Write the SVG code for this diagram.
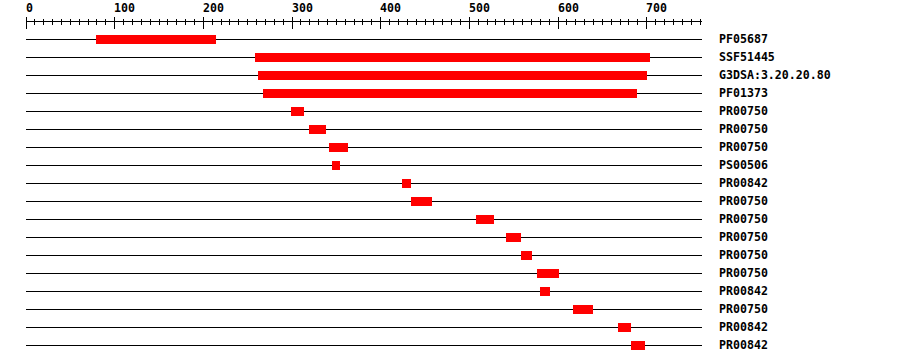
<svg xmlns="http://www.w3.org/2000/svg" width="900" height="364" viewBox="0 0 900 364">
<style>
text{font-family:"DejaVu Sans Mono","Liberation Mono",monospace;font-weight:bold;font-size:11.6px;fill:#000}
.ln{stroke:#000;stroke-width:1;fill:none}
.bar{fill:#ff0000}
</style>
<rect width="900" height="364" fill="#fff"/>
<g id="ruler">
<path class="ln" d="M26 21.5H702"/>
<path class="ln" d="M26.5 17V29M114.5 17V29M203.5 17V29M292.5 17V29M380.5 17V29M469.5 17V29M558.5 17V29M646.5 17V29"/>
<path class="ln" d="M34.5 19V25M43.5 19V25M52.5 19V25M61.5 19V25M70.5 19V25M79.5 19V25M88.5 19V25M96.5 19V25M105.5 19V25M123.5 19V25M132.5 19V25M141.5 19V25M150.5 19V25M159.5 19V25M167.5 19V25M176.5 19V25M185.5 19V25M194.5 19V25M212.5 19V25M221.5 19V25M229.5 19V25M238.5 19V25M247.5 19V25M256.5 19V25M265.5 19V25M274.5 19V25M283.5 19V25M300.5 19V25M309.5 19V25M318.5 19V25M327.5 19V25M336.5 19V25M345.5 19V25M354.5 19V25M362.5 19V25M371.5 19V25M389.5 19V25M398.5 19V25M407.5 19V25M416.5 19V25M425.5 19V25M433.5 19V25M442.5 19V25M451.5 19V25M460.5 19V25M478.5 19V25M487.5 19V25M495.5 19V25M504.5 19V25M513.5 19V25M522.5 19V25M531.5 19V25M540.5 19V25M549.5 19V25M566.5 19V25M575.5 19V25M584.5 19V25M593.5 19V25M602.5 19V25M611.5 19V25M620.5 19V25M628.5 19V25M637.5 19V25M655.5 19V25M664.5 19V25M673.5 19V25M682.5 19V25M691.5 19V25M700.5 19V25"/>
<text x="26" y="12">0</text>
<text x="114" y="12">100</text>
<text x="203" y="12">200</text>
<text x="292" y="12">300</text>
<text x="380" y="12">400</text>
<text x="469" y="12">500</text>
<text x="558" y="12">600</text>
<text x="646" y="12">700</text>
</g>
<g id="connectors">
<path class="ln" d="M26 39.5H702M26 57.5H702M26 75.5H702M26 93.5H702M26 111.5H702M26 129.5H702M26 147.5H702M26 165.5H702M26 183.5H702M26 201.5H702M26 219.5H702M26 237.5H702M26 255.5H702M26 273.5H702M26 291.5H702M26 309.5H702M26 327.5H702M26 345.5H702"/>
</g>
<g id="t1"><rect class="bar" x="96" y="35" width="120" height="9"/><text x="719" y="43">PF05687</text></g>
<g id="t2"><rect class="bar" x="255" y="53" width="395" height="9"/><text x="719" y="61">SSF51445</text></g>
<g id="t3"><rect class="bar" x="258" y="71" width="389" height="9"/><text x="719" y="79">G3DSA:3.20.20.80</text></g>
<g id="t4"><rect class="bar" x="263" y="89" width="374" height="9"/><text x="719" y="97">PF01373</text></g>
<g id="t5"><rect class="bar" x="291" y="107" width="13" height="9"/><text x="719" y="115">PR00750</text></g>
<g id="t6"><rect class="bar" x="309" y="125" width="17" height="9"/><text x="719" y="133">PR00750</text></g>
<g id="t7"><rect class="bar" x="329" y="143" width="19" height="9"/><text x="719" y="151">PR00750</text></g>
<g id="t8"><rect class="bar" x="332" y="161" width="8" height="9"/><text x="719" y="169">PS00506</text></g>
<g id="t9"><rect class="bar" x="402" y="179" width="9" height="9"/><text x="719" y="187">PR00842</text></g>
<g id="t10"><rect class="bar" x="411" y="197" width="21" height="9"/><text x="719" y="205">PR00750</text></g>
<g id="t11"><rect class="bar" x="476" y="215" width="18" height="9"/><text x="719" y="223">PR00750</text></g>
<g id="t12"><rect class="bar" x="506" y="233" width="15" height="9"/><text x="719" y="241">PR00750</text></g>
<g id="t13"><rect class="bar" x="521" y="251" width="11" height="9"/><text x="719" y="259">PR00750</text></g>
<g id="t14"><rect class="bar" x="537" y="269" width="22" height="9"/><text x="719" y="277">PR00750</text></g>
<g id="t15"><rect class="bar" x="540" y="287" width="10" height="9"/><text x="719" y="295">PR00842</text></g>
<g id="t16"><rect class="bar" x="573" y="305" width="20" height="9"/><text x="719" y="313">PR00750</text></g>
<g id="t17"><rect class="bar" x="618" y="323" width="13" height="9"/><text x="719" y="331">PR00842</text></g>
<g id="t18"><rect class="bar" x="631" y="341" width="14" height="9"/><text x="719" y="349">PR00842</text></g>
</svg>
